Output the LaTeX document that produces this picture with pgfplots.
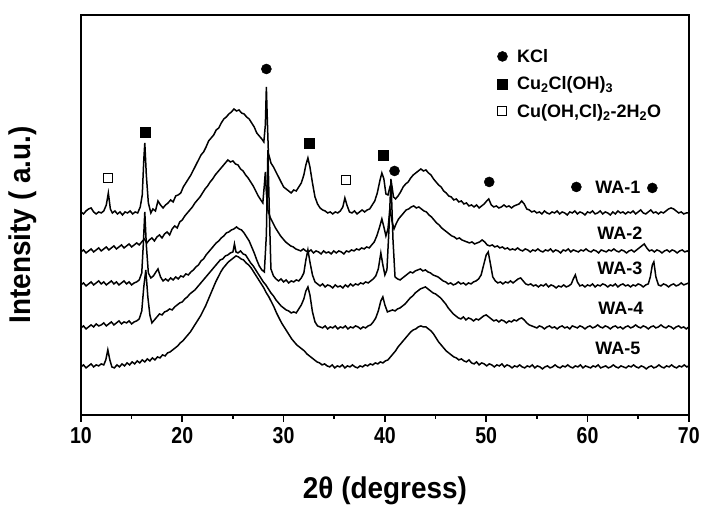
\documentclass[border=0pt]{standalone}
\usepackage{fontspec}
\setmainfont{Liberation Sans}
\newfontfamily\narrowfont{Liberation Sans}[FakeStretch=0.85]
\newfontfamily\labelfont{Liberation Sans}[FakeStretch=0.93]
\usepackage{pgfplots}
\pgfplotsset{compat=1.18}

\begin{document}
\begin{tikzpicture}
\begin{axis}[
    scale only axis,
    width=608bp, height=400bp,
    xmin=10, xmax=70, ymin=0, ymax=400,
    xtick={10,20,...,70}, minor x tick num=1,
    ytick=\empty,
    xtick pos=bottom, tick align=outside,
    major tick length=7bp, minor tick length=4bp,
    axis line style={line width=2.2bp},
    tick style={line width=1.6bp, black},
    /pgf/number format/assume math mode=true,
    ticklabel style={font=\narrowfont\bfseries\fontsize{23bp}{26bp}\selectfont, yshift=-2bp},
    xlabel={2θ (degress)},
    ylabel={Intensity ( a.u.)},
    xlabel style={font=\labelfont\bfseries\fontsize{30bp}{34bp}\selectfont, at={(axis description cs:0.5,-0.19)}, anchor=center},
    ylabel style={font=\labelfont\bfseries\fontsize{30bp}{34bp}\selectfont, at={(axis description cs:-0.095,0.475)}, anchor=center},
    legend style={draw=none, fill=none, at={(0.68,0.925)}, anchor=north west,
        font=\bfseries\fontsize{18bp}{21bp}\selectfont, row sep=9bp},
    legend cell align=left,
    legend image code/.code={\draw[#1] plot coordinates {(0.15cm,0cm)}; \path[draw=none, fill=none] (0cm,0cm) -- (0.6cm,0cm);},
    every axis plot/.append style={line width=1.5bp, black},
]

% WA-1
\addplot[forget plot] coordinates {
(10.00,203)(10.25,201)(10.50,204)(10.75,206)(11.00,207)(11.25,203)(11.50,201)(11.75,203)(12.00,202)(12.25,204)
(12.50,210)(12.70,222)(12.90,206)(13.10,202)(13.35,204)(13.60,201)(13.85,203)(14.10,200)(14.35,203)(14.60,202)
(14.85,204)(15.10,201)(15.35,203)(15.60,202)(15.85,208)(16.05,220)(16.20,255)(16.30,272)(16.45,240)(16.65,212)
(16.90,202)(17.10,206)(17.35,204)(17.60,214)(17.85,210)(18.10,207)(18.35,210)(18.60,212)(18.85,215)(19.10,213)
(19.35,219)(19.60,220)(19.85,222)(20.10,228)(20.35,232)(20.60,236)(20.85,240)(21.10,245)(21.35,250)(21.60,255)
(21.85,260)(22.10,263)(22.35,268)(22.60,274)(22.85,277)(23.10,280)(23.35,285)(23.60,287)(23.85,292)(24.10,296)
(24.35,298)(24.60,301)(24.85,303)(25.10,306)(25.35,304)(25.60,305)(25.85,302)(26.10,301)(26.35,298)(26.60,296)
(26.85,292)(27.10,288)(27.35,282)(27.60,279)(27.85,276)(28.05,273)(28.20,290)(28.30,328)(28.38,300)(28.50,262)
(28.75,252)(29.00,248)(29.25,243)(29.50,238)(29.75,233)(30.00,228)(30.25,226)(30.50,224)(30.75,222)(31.00,225)
(31.25,224)(31.50,228)(31.75,232)(32.00,240)(32.20,250)(32.40,257)(32.60,248)(32.85,232)(33.10,218)(33.35,211)
(33.60,207)(33.85,205)(34.10,204)(34.35,202)(34.60,203)(34.85,201)(35.10,203)(35.35,202)(35.60,204)(35.85,208)
(36.05,217)(36.25,210)(36.50,203)(36.75,202)(37.00,204)(37.25,201)(37.50,203)(37.75,205)(38.00,203)(38.25,205)
(38.50,206)(38.75,210)(39.00,214)(39.25,222)(39.50,234)(39.70,242)(39.90,236)(40.10,221)(40.30,220)(40.50,228)
(40.65,232)(40.85,218)(41.05,216)(41.30,219)(41.55,223)(41.80,228)(42.05,231)(42.30,233)(42.55,237)(42.80,240)
(43.05,242)(43.30,244)(43.55,246)(43.80,244)(44.05,245)(44.30,242)(44.55,240)(44.80,236)(45.05,233)(45.30,230)
(45.55,228)(45.80,224)(46.05,222)(46.30,219)(46.55,218)(46.80,215)(47.05,216)(47.30,213)(47.55,214)(47.80,211)
(48.05,212)(48.30,209)(48.55,210)(48.80,208)(49.05,210)(49.30,207)(49.55,209)(49.80,211)(50.05,214)(50.25,216)
(50.50,210)(50.75,208)(51.00,209)(51.25,207)(51.50,208)(51.75,210)(52.00,208)(52.25,209)(52.50,207)(52.75,209)
(53.00,210)(53.25,211)(53.50,214)(53.75,211)(54.00,206)(54.25,205)(54.50,203)(54.75,204)(55.00,202)(55.25,203)
(55.50,201)(55.75,204)(56.00,202)(56.25,201)(56.50,203)(56.75,202)(57.00,204)(57.25,201)(57.50,203)(57.75,202)
(58.00,200)(58.25,203)(58.50,202)(58.75,204)(59.00,201)(59.25,203)(59.50,202)(59.75,200)(60.00,203)(60.25,202)
(60.50,204)(60.75,201)(61.00,202)(61.25,204)(61.50,201)(61.75,203)(62.00,202)(62.25,200)(62.50,203)(62.75,201)
(63.00,204)(63.25,202)(63.50,203)(63.75,201)(64.00,203)(64.25,202)(64.50,204)(64.75,201)(65.00,203)(65.25,205)
(65.50,202)(65.75,201)(66.00,203)(66.25,205)(66.50,202)(66.75,203)(67.00,201)(67.25,203)(67.50,202)(67.75,204)
(68.00,206)(68.25,207)(68.50,206)(68.75,204)(69.00,202)(69.25,203)(69.50,201)(69.75,202)(70.00,202)
};

% WA-2
\addplot[forget plot] coordinates {
(10.00,163)(10.25,165)(10.50,162)(10.75,164)(11.00,166)(11.25,163)(11.50,165)(11.75,167)(12.00,164)(12.25,166)
(12.50,168)(12.75,165)(13.00,167)(13.25,169)(13.50,166)(13.75,168)(14.00,170)(14.25,167)(14.50,169)(14.75,171)
(15.00,168)(15.25,170)(15.50,172)(15.75,170)(16.00,173)(16.25,176)(16.50,172)(16.75,175)(17.00,177)(17.25,174)
(17.50,178)(17.75,180)(18.00,177)(18.25,181)(18.50,183)(18.75,180)(19.00,186)(19.25,189)(19.50,187)(19.75,193)
(20.00,195)(20.25,199)(20.50,202)(20.75,205)(21.00,208)(21.25,212)(21.50,215)(21.75,218)(22.00,222)(22.25,226)
(22.50,229)(22.75,233)(23.00,236)(23.25,240)(23.50,243)(23.75,246)(24.00,249)(24.25,252)(24.50,255)(24.75,253)
(25.00,254)(25.25,251)(25.50,250)(25.75,246)(26.00,244)(26.25,240)(26.50,237)(26.75,233)(27.00,229)(27.25,224)
(27.50,219)(27.75,215)(27.95,212)(28.10,230)(28.20,243)(28.30,222)(28.45,205)(28.70,197)(28.95,192)(29.20,187)
(29.45,183)(29.70,179)(29.95,176)(30.20,173)(30.45,171)(30.70,169)(30.95,168)(31.20,166)(31.45,165)(31.70,164)
(31.95,166)(32.20,164)(32.45,163)(32.70,165)(32.95,162)(33.20,164)(33.45,163)(33.70,161)(33.95,164)(34.20,162)
(34.45,163)(34.70,161)(34.95,164)(35.20,162)(35.45,164)(35.70,163)(35.95,161)(36.20,164)(36.45,163)(36.70,165)
(36.95,164)(37.20,166)(37.45,165)(37.70,167)(37.95,166)(38.20,168)(38.45,167)(38.70,170)(38.95,173)(39.20,179)
(39.45,187)(39.70,196)(39.90,188)(40.10,179)(40.30,186)(40.50,206)(40.70,194)(40.90,186)(41.10,191)(41.35,196)
(41.60,199)(41.85,202)(42.10,205)(42.35,206)(42.60,208)(42.85,209)(43.10,207)(43.35,208)(43.60,206)(43.85,204)
(44.10,203)(44.35,200)(44.60,198)(44.85,195)(45.10,192)(45.35,190)(45.60,187)(45.85,185)(46.10,183)(46.35,181)
(46.60,179)(46.85,178)(47.10,176)(47.35,177)(47.60,175)(47.85,174)(48.10,173)(48.35,172)(48.60,173)(48.85,171)
(49.10,172)(49.35,173)(49.60,175)(49.85,173)(50.10,170)(50.35,169)(50.60,170)(50.85,168)(51.10,169)(51.35,167)
(51.60,168)(51.85,166)(52.10,167)(52.35,165)(52.60,166)(52.85,165)(53.10,167)(53.35,165)(53.60,164)(53.85,166)
(54.10,165)(54.35,163)(54.60,165)(54.85,164)(55.10,166)(55.35,164)(55.60,163)(55.85,165)(56.10,164)(56.35,166)
(56.60,163)(56.85,165)(57.10,164)(57.35,162)(57.60,165)(57.85,164)(58.10,166)(58.35,163)(58.60,165)(58.85,164)
(59.10,163)(59.35,165)(59.60,164)(59.85,166)(60.10,164)(60.35,163)(60.60,165)(60.85,164)(61.10,162)(61.35,165)
(61.60,164)(61.85,163)(62.10,165)(62.35,164)(62.60,166)(62.85,164)(63.10,163)(63.35,165)(63.60,164)(63.85,162)
(64.10,164)(64.35,165)(64.60,163)(64.85,165)(65.10,167)(65.35,169)(65.60,171)(65.85,167)(66.10,164)(66.35,165)
(66.60,163)(66.85,165)(67.10,164)(67.35,162)(67.60,164)(67.85,165)(68.10,163)(68.35,165)(68.60,164)(68.85,162)
(69.10,164)(69.35,165)(69.60,163)(69.85,164)(70.00,163)
};

% WA-3
\addplot[forget plot] coordinates {
(10.00,130)(10.25,132)(10.50,129)(10.75,131)(11.00,133)(11.25,130)(11.50,132)(11.75,134)(12.00,131)(12.25,133)
(12.50,130)(12.75,132)(13.00,134)(13.25,131)(13.50,133)(13.75,130)(14.00,132)(14.25,134)(14.50,131)(14.75,133)
(15.00,130)(15.25,132)(15.50,133)(15.75,135)(16.00,142)(16.15,170)(16.30,203)(16.45,170)(16.65,142)(16.90,137)
(17.15,139)(17.40,143)(17.60,146)(17.85,138)(18.10,134)(18.35,136)(18.60,134)(18.85,137)(19.10,135)(19.35,138)
(19.60,136)(19.85,139)(20.10,138)(20.35,141)(20.60,140)(20.85,143)(21.10,145)(21.35,148)(21.60,150)(21.85,154)
(22.10,156)(22.35,160)(22.60,163)(22.85,166)(23.10,169)(23.35,172)(23.60,174)(23.85,177)(24.10,179)(24.35,182)
(24.60,183)(24.85,185)(25.10,186)(25.35,188)(25.60,186)(25.85,185)(26.10,182)(26.35,178)(26.60,174)(26.85,168)
(27.10,162)(27.35,155)(27.60,149)(27.85,145)(28.10,143)(28.30,180)(28.45,265)(28.60,200)(28.75,146)(29.00,139)
(29.25,136)(29.50,134)(29.75,136)(30.00,133)(30.25,135)(30.50,132)(30.75,134)(31.00,133)(31.25,135)(31.50,134)
(31.75,137)(32.00,142)(32.20,155)(32.40,165)(32.60,153)(32.85,140)(33.10,133)(33.35,131)(33.60,129)(33.85,131)
(34.10,128)(34.35,130)(34.60,129)(34.85,127)(35.10,130)(35.35,128)(35.60,129)(35.85,127)(36.10,130)(36.35,128)
(36.60,131)(36.85,129)(37.10,131)(37.35,130)(37.60,132)(37.85,131)(38.10,133)(38.35,132)(38.60,134)(38.85,136)
(39.10,139)(39.35,146)(39.60,162)(39.80,150)(40.00,140)(40.20,145)(40.40,185)(40.60,236)(40.80,175)(41.00,138)
(41.25,136)(41.50,135)(41.75,137)(42.00,139)(42.25,141)(42.50,143)(42.75,142)(43.00,144)(43.25,145)(43.50,146)
(43.75,144)(44.00,145)(44.25,143)(44.50,142)(44.75,140)(45.00,139)(45.25,138)(45.50,136)(45.75,134)(46.00,133)
(46.25,131)(46.50,132)(46.75,130)(47.00,131)(47.25,133)(47.50,131)(47.75,132)(48.00,130)(48.25,132)(48.50,131)
(48.75,133)(49.00,134)(49.25,136)(49.50,140)(49.75,150)(50.00,160)(50.20,163)(50.40,152)(50.65,138)(50.90,134)
(51.15,132)(51.40,133)(51.65,131)(51.90,133)(52.15,132)(52.40,134)(52.65,132)(52.90,134)(53.15,136)(53.40,137)
(53.65,134)(53.90,131)(54.15,130)(54.40,131)(54.65,129)(54.90,130)(55.15,128)(55.40,130)(55.65,129)(55.90,131)
(56.15,128)(56.40,130)(56.65,129)(56.90,127)(57.15,129)(57.40,128)(57.65,130)(57.90,128)(58.15,129)(58.40,131)
(58.60,136)(58.80,140)(59.00,133)(59.25,129)(59.50,130)(59.75,128)(60.00,130)(60.25,129)(60.50,131)(60.75,128)
(61.00,130)(61.25,129)(61.50,131)(61.75,130)(62.00,128)(62.25,130)(62.50,129)(62.75,131)(63.00,128)(63.25,130)
(63.50,131)(63.75,129)(64.00,130)(64.25,128)(64.50,130)(64.75,129)(65.00,131)(65.25,130)(65.50,128)(65.75,130)
(66.00,131)(66.20,138)(66.40,150)(66.55,153)(66.75,138)(67.00,130)(67.25,129)(67.50,131)(67.75,130)(68.00,128)
(68.25,130)(68.50,131)(68.75,129)(69.00,130)(69.25,132)(69.50,130)(69.75,131)(70.00,132)
};

% WA-4
\addplot[forget plot] coordinates {
(10.00,87)(10.25,89)(10.50,86)(10.75,88)(11.00,90)(11.25,88)(11.50,91)(11.75,89)(12.00,90)(12.25,92)
(12.50,89)(12.75,91)(13.00,93)(13.25,90)(13.50,92)(13.75,94)(14.00,91)(14.25,93)(14.50,92)(14.75,94)
(15.00,91)(15.25,93)(15.50,94)(15.75,96)(16.00,104)(16.20,128)(16.40,145)(16.60,118)(16.80,100)(17.00,92)
(17.25,95)(17.50,98)(17.75,101)(18.00,100)(18.25,103)(18.50,104)(18.75,106)(19.00,105)(19.25,108)(19.50,110)
(19.75,112)(20.00,113)(20.25,116)(20.50,118)(20.75,121)(21.00,123)(21.25,125)(21.50,128)(21.75,131)(22.00,134)
(22.25,137)(22.50,140)(22.75,143)(23.00,146)(23.25,149)(23.50,152)(23.75,155)(24.00,156)(24.25,159)(24.50,160)
(24.75,162)(25.00,163)(25.15,171)(25.30,163)(25.50,162)(25.75,164)(26.00,161)(26.25,160)(26.50,156)(26.75,152)
(27.00,149)(27.25,145)(27.50,141)(27.75,137)(28.00,133)(28.25,130)(28.50,126)(28.75,122)(29.00,119)(29.25,115)
(29.50,112)(29.75,109)(30.00,107)(30.25,105)(30.50,104)(30.75,102)(31.00,103)(31.25,102)(31.50,106)(31.75,110)
(32.00,116)(32.20,124)(32.40,128)(32.60,120)(32.85,103)(33.10,93)(33.35,89)(33.60,88)(33.85,87)(34.10,89)
(34.35,86)(34.60,88)(34.85,87)(35.10,89)(35.35,86)(35.60,88)(35.85,87)(36.10,89)(36.35,86)(36.60,88)
(36.85,87)(37.10,89)(37.35,88)(37.60,86)(37.85,88)(38.10,87)(38.35,89)(38.60,90)(38.85,93)(39.10,97)
(39.35,104)(39.60,114)(39.80,118)(40.00,110)(40.25,103)(40.50,104)(40.75,105)(41.00,104)(41.25,106)(41.50,107)
(41.75,109)(42.00,111)(42.25,114)(42.50,117)(42.75,119)(43.00,122)(43.25,124)(43.50,126)(43.75,127)(44.00,128)
(44.25,126)(44.50,124)(44.75,122)(45.00,121)(45.25,119)(45.50,117)(45.75,114)(46.00,111)(46.25,107)(46.50,104)
(46.75,101)(47.00,99)(47.25,97)(47.50,96)(47.75,98)(48.00,95)(48.25,97)(48.50,96)(48.75,94)(49.00,96)
(49.25,95)(49.50,97)(49.75,99)(50.00,100)(50.25,98)(50.50,96)(50.75,94)(51.00,95)(51.25,93)(51.50,95)
(51.75,94)(52.00,92)(52.25,94)(52.50,93)(52.75,95)(53.00,94)(53.25,96)(53.50,97)(53.75,95)(54.00,92)
(54.25,90)(54.50,89)(54.75,88)(55.00,87)(55.25,89)(55.50,88)(55.75,86)(56.00,88)(56.25,89)(56.50,87)
(56.75,88)(57.00,86)(57.25,88)(57.50,89)(57.75,87)(58.00,88)(58.25,86)(58.50,89)(58.75,88)(59.00,87)
(59.25,89)(59.50,88)(59.75,86)(60.00,88)(60.25,89)(60.50,87)(60.75,88)(61.00,90)(61.25,88)(61.50,87)
(61.75,89)(62.00,88)(62.25,86)(62.50,88)(62.75,89)(63.00,87)(63.25,88)(63.50,86)(63.75,88)(64.00,89)
(64.25,87)(64.50,88)(64.75,90)(65.00,88)(65.25,87)(65.50,89)(65.75,88)(66.00,86)(66.25,88)(66.50,89)
(66.75,87)(67.00,88)(67.25,90)(67.50,88)(67.75,87)(68.00,89)(68.25,88)(68.50,86)(68.75,88)(69.00,89)
(69.25,87)(69.50,88)(69.75,86)(70.00,88)
};

% WA-5
\addplot[forget plot] coordinates {
(10.00,48)(10.25,50)(10.50,47)(10.75,49)(11.00,51)(11.25,48)(11.50,50)(11.75,49)(12.00,51)(12.25,50)
(12.45,55)(12.65,65)(12.85,55)(13.05,48)(13.30,47)(13.55,50)(13.80,48)(14.05,51)(14.30,49)(14.55,52)
(14.80,50)(15.05,53)(15.30,51)(15.55,54)(15.80,52)(16.05,55)(16.30,53)(16.55,56)(16.80,54)(17.05,57)
(17.30,55)(17.55,58)(17.80,57)(18.05,60)(18.30,59)(18.55,62)(18.80,63)(19.05,65)(19.30,67)(19.55,69)
(19.80,72)(20.05,74)(20.30,77)(20.55,80)(20.80,83)(21.05,87)(21.30,91)(21.55,95)(21.80,99)(22.05,104)
(22.30,109)(22.55,115)(22.80,121)(23.05,127)(23.30,133)(23.55,138)(23.80,143)(24.05,147)(24.30,150)(24.55,153)
(24.80,155)(25.05,157)(25.30,159)(25.55,158)(25.80,156)(26.05,155)(26.30,152)(26.55,150)(26.80,147)(27.05,143)
(27.30,139)(27.55,135)(27.80,131)(28.05,127)(28.30,122)(28.55,118)(28.80,113)(29.05,108)(29.30,102)(29.55,97)
(29.80,92)(30.05,88)(30.30,84)(30.55,80)(30.80,76)(31.05,73)(31.30,70)(31.55,68)(31.80,66)(32.05,64)
(32.30,61)(32.55,59)(32.80,57)(33.05,55)(33.30,53)(33.55,52)(33.80,50)(34.05,51)(34.30,49)(34.55,48)
(34.80,50)(35.05,47)(35.30,49)(35.55,48)(35.80,50)(36.05,47)(36.30,49)(36.55,48)(36.80,50)(37.05,48)
(37.30,47)(37.55,49)(37.80,48)(38.05,50)(38.30,49)(38.55,51)(38.80,50)(39.05,52)(39.30,51)(39.55,53)
(39.80,52)(40.05,54)(40.30,55)(40.55,58)(40.80,61)(41.05,64)(41.30,68)(41.55,71)(41.80,74)(42.05,77)
(42.30,80)(42.55,83)(42.80,85)(43.05,86)(43.30,88)(43.55,89)(43.80,88)(44.05,88)(44.30,86)(44.55,84)
(44.80,81)(45.05,77)(45.30,73)(45.55,70)(45.80,67)(46.05,64)(46.30,62)(46.55,60)(46.80,58)(47.05,57)
(47.30,55)(47.55,56)(47.80,54)(48.05,53)(48.30,55)(48.55,52)(48.80,51)(49.05,53)(49.30,50)(49.55,52)
(49.80,51)(50.05,49)(50.30,51)(50.55,50)(50.80,48)(51.05,50)(51.30,49)(51.55,51)(51.80,48)(52.05,50)
(52.30,49)(52.55,47)(52.80,49)(53.05,48)(53.30,50)(53.55,48)(53.80,47)(54.05,49)(54.30,48)(54.55,50)
(54.80,47)(55.05,49)(55.30,48)(55.55,46)(55.80,48)(56.05,49)(56.30,47)(56.55,48)(56.80,50)(57.05,48)
(57.30,47)(57.55,49)(57.80,48)(58.05,50)(58.30,48)(58.55,47)(58.80,49)(59.05,48)(59.30,50)(59.55,47)
(59.80,49)(60.05,48)(60.30,47)(60.55,49)(60.80,48)(61.05,50)(61.30,47)(61.55,48)(61.80,49)(62.05,47)
(62.30,48)(62.55,50)(62.80,48)(63.05,47)(63.30,49)(63.55,48)(63.80,47)(64.05,49)(64.30,48)(64.55,50)
(64.80,48)(65.05,47)(65.30,49)(65.55,48)(65.80,46)(66.05,48)(66.30,49)(66.55,47)(66.80,48)(67.05,50)
(67.30,48)(67.55,47)(67.80,49)(68.05,48)(68.30,50)(68.55,48)(68.80,47)(69.05,49)(69.30,48)(69.55,50)
(69.80,48)(70.00,49)
};

% phase markers
\addplot[only marks, mark=*, mark size=5bp, line width=0.5bp]
    coordinates {(28.3,346)(40.95,244)(50.3,233)(58.9,228)(66.4,227)};
\addlegendentry{KCl}
\addplot[only marks, mark=square*, mark size=5bp, line width=0.5bp]
    coordinates {(16.3,283)(32.5,272)(39.8,260)};
\addlegendentry{Cu\textsubscript{2}Cl(OH)\textsubscript{3}}
\addplot[only marks, mark=square, mark size=4.5bp, line width=1bp]
    coordinates {(12.7,237)(36.2,235)};
\addlegendentry{Cu(OH,Cl)\textsubscript{2}-2H\textsubscript{2}O}

\begin{scope}[every node/.style={font=\bfseries\fontsize{18bp}{21bp}\selectfont}]
\node at (axis cs:63.0,228) {WA-1};
\node at (axis cs:63.2,182) {WA-2};
\node at (axis cs:63.2,147) {WA-3};
\node at (axis cs:63.3,107) {WA-4};
\node at (axis cs:63.0,67) {WA-5};
\end{scope}

\coordinate (O) at (axis cs:10,0);
\end{axis}
\path (O) ++(-81bp,-91bp) rectangle ++(703bp,506bp);
\end{tikzpicture}
\end{document}
